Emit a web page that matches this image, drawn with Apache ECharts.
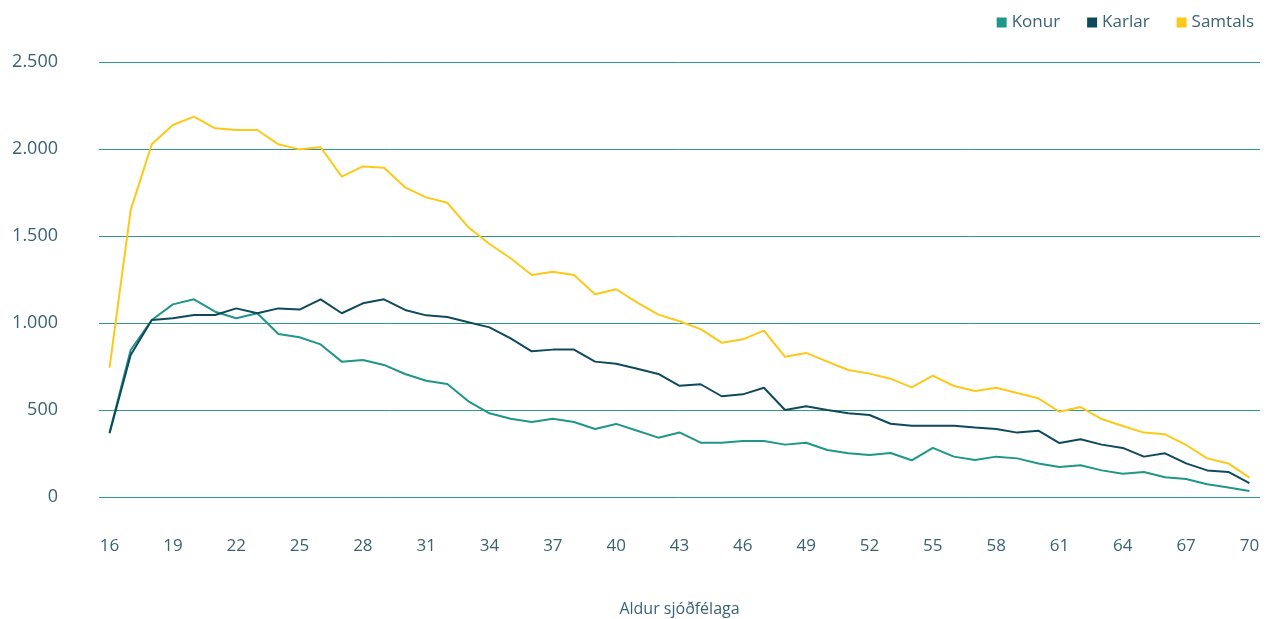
<!DOCTYPE html>
<html>
<head>
<meta charset="utf-8">
<script src="https://cdn.jsdelivr.net/npm/echarts@6/dist/echarts.min.js"></script>
<style>
  html, body { margin: 0; padding: 0; background: #fff; }
  #chart { width: 1274px; height: 619px; }
</style>
</head>
<body>
<div id="chart"></div>
<script>
  // aldur 16 - 70
  const ages = [];
  for (let a = 16; a <= 70; a++) ages.push(String(a));

  const konur = [370, 845, 1017, 1107, 1136, 1065, 1027, 1056, 937, 918,
    877, 778, 787, 759, 707, 668, 649, 550, 481, 450,
    431, 450, 431, 391, 420, 381, 341, 371, 312, 312,
    322, 322, 301, 312, 270, 251, 241, 253, 211, 282,
    232, 213, 232, 222, 192, 172, 182, 153, 134, 144,
    113, 103, 73, 54, 34];

  const karlar = [366, 816, 1017, 1027, 1046, 1046, 1084, 1056, 1084, 1077,
    1136, 1056, 1113, 1136, 1075, 1044, 1034, 1004, 975, 912,
    837, 847, 847, 778, 766, 737, 707, 639, 648, 579,
    590, 628, 500, 521, 500, 481, 471, 421, 410, 410,
    410, 400, 391, 370, 381, 310, 332, 301, 282, 232,
    251, 193, 153, 144, 80];

  const samtals = [743, 1649, 2027, 2138, 2186, 2119, 2109, 2109, 2027, 1998,
    2010, 1841, 1900, 1892, 1780, 1722, 1691, 1550, 1454, 1372,
    1276, 1295, 1276, 1165, 1194, 1117, 1048, 1010, 965, 887,
    906, 956, 806, 828, 778, 730, 709, 680, 630, 697,
    638, 609, 628, 598, 567, 490, 517, 448, 408, 370,
    360, 299, 222, 193, 111];

  const seriesNames = ['Konur', 'Karlar', 'Samtals'];
  const colors = ['#1f9688', '#0e4a5c', '#fdc918'];
  const textColor = '#3a6274';
  const font = '"Open Sans", "Noto Sans", sans-serif';

  const chart = echarts.init(document.getElementById('chart'));

  chart.setOption({
    animation: false,
    color: colors,
    textStyle: { fontFamily: font },
    legend: {
      data: seriesNames,
      right: 15,
      top: 9,
      icon: 'rect',
      itemWidth: 10,
      itemHeight: 10,
      itemGap: 27,
      textStyle: { color: textColor, fontSize: 17, fontFamily: font }
    },
    grid: { left: 99, right: 14, top: 62, bottom: 122, outerBoundsMode: 'none', containLabel: false },
    xAxis: {
      type: 'category',
      data: ages,
      boundaryGap: true,
      name: 'Aldur sjóðfélaga',
      nameLocation: 'middle',
      nameGap: 104,
      nameTextStyle: { color: textColor, fontSize: 16, fontFamily: font },
      axisLine: { show: false },
      axisTick: { show: false },
      axisLabel: {
        interval: 2,
        margin: 41,
        color: textColor,
        fontSize: 17,
        fontFamily: font
      }
    },
    yAxis: {
      type: 'value',
      min: 0,
      max: 2500,
      interval: 500,
      axisLine: { show: false },
      axisTick: { show: false },
      axisLabel: {
        margin: 41,
        color: textColor,
        fontSize: 18,
        fontFamily: font,
        formatter: v => String(v).replace(/\B(?=(\d{3})+(?!\d))/g, '.')
      },
      splitLine: { lineStyle: { color: '#2f9a8c', width: 1 } }
    },
    series: [
      { name: 'Konur', type: 'line', data: konur, symbol: 'none', lineStyle: { width: 2 } },
      { name: 'Karlar', type: 'line', data: karlar, symbol: 'none', lineStyle: { width: 2 } },
      { name: 'Samtals', type: 'line', data: samtals, symbol: 'none', lineStyle: { width: 2 } }
    ]
  });
</script>
</body>
</html>
